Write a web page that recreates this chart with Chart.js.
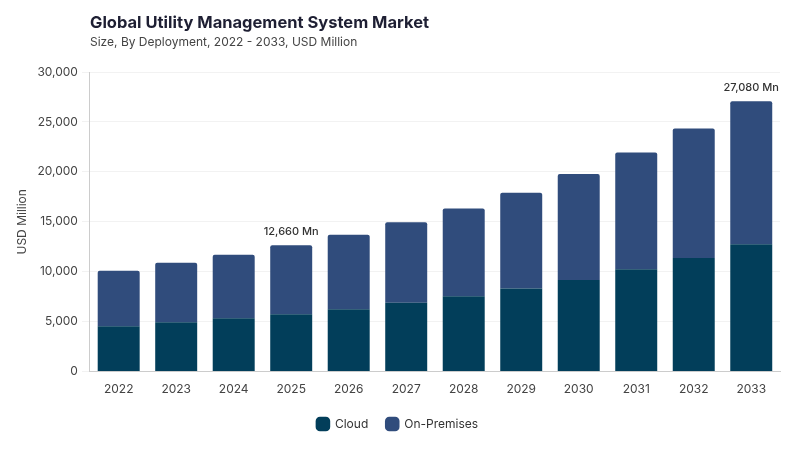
<!DOCTYPE html>
<html>
<head>
<meta charset="utf-8">
<script src="https://cdn.jsdelivr.net/npm/chart.js@4.4.0/dist/chart.umd.min.js"></script>
<style>
    html, body { margin: 0; padding: 0; background: #fff; }
    #wrap { position: relative; width: 800px; height: 450px; font-family: Inter, "Open Sans", sans-serif; }
    #title { position: absolute; left: 90px; top: 12px; font-size: 16.5px; font-weight: 700; color: #1e1f33; }
    #subtitle { position: absolute; left: 90px; top: 34px; font-size: 12px; color: #444; }
    canvas { position: absolute; left: 0; top: 0; }
</style>
</head>
<body>
<div id="wrap">
    <canvas id="chart" width="800" height="450"></canvas>
    <div id="title">Global Utility Management System Market</div>
    <div id="subtitle">Size, By Deployment, 2022 - 2033, USD Million</div>
</div>
<script>
// Dados do gráfico
const years = ['2022', '2023', '2024', '2025', '2026', '2027', '2028', '2029', '2030', '2031', '2032', '2033'];
const cloud = [4540, 4950, 5350, 5750, 6250, 6890, 7550, 8320, 9160, 10260, 11370, 12740];
const onPremises = [5560, 5950, 6350, 6910, 7450, 8060, 8770, 9600, 10630, 11670, 12970, 14340];
const yTicks = [0, 5000, 10000, 15000, 20000, 25000, 30000];
// rótulos de total acima das barras (índice -> texto)
const totalLabels = { 3: '12,660 Mn', 11: '27,080 Mn' };

// Plugin para escrever os totais acima das barras
const totalsPlugin = {
    id: 'totals',
    afterDatasetsDraw(chart) {
        const ctx = chart.ctx;
        const meta = chart.getDatasetMeta(1);
        ctx.save();
        ctx.font = '500 11px Inter, "Open Sans", sans-serif';
        ctx.fillStyle = '#333';
        ctx.textAlign = 'center';
        ctx.textBaseline = 'bottom';
        Object.keys(totalLabels).forEach(i => {
            const bar = meta.data[i];
            ctx.fillText(totalLabels[i], bar.x, bar.y - 8);
        });
        ctx.restore();
    }
};

const ctx = document.getElementById('chart').getContext('2d');
new Chart(ctx, {
    type: 'bar',
    data: {
        labels: years,
        datasets: [{
            label: 'Cloud',
            data: cloud,
            backgroundColor: '#023e5a',
            borderWidth: 0,
            barPercentage: 0.73,
            categoryPercentage: 1
        }, {
            label: 'On-Premises',
            data: onPremises,
            backgroundColor: '#304c7c',
            borderRadius: { topLeft: 2, topRight: 2 },
            borderSkipped: 'bottom',
            barPercentage: 0.73,
            categoryPercentage: 1
        }]
    },
    options: {
        responsive: false,
        animation: false,
        layout: { padding: { top: 72, right: 20, left: 15, bottom: 10 } },
        scales: {
            x: {
                stacked: true,
                grid: { display: false },
                border: { color: '#ccc' },
                ticks: { color: '#444', font: { size: 12, family: 'Inter' }, padding: 3 }
            },
            y: {
                stacked: true,
                min: 0,
                max: 30000,
                afterBuildTicks(axis) {
                    axis.ticks = yTicks.map(v => ({ value: v }));
                },
                grid: { color: '#f2f2f2', tickLength: 8 },
                border: { color: '#ccc' },
                ticks: {
                    color: '#444',
                    font: { size: 12, family: 'Inter' },
                    padding: 4,
                    callback: v => v.toLocaleString('en-US')
                },
                title: {
                    display: true,
                    text: 'USD Million',
                    color: '#444',
                    font: { size: 12, family: 'Inter' },
                    padding: { top: 0, bottom: 4 }
                }
            }
        },
        plugins: {
            legend: {
                position: 'bottom',
                labels: {
                    usePointStyle: true,
                    pointStyle: 'rectRounded',
                    boxWidth: 14,
                    boxHeight: 14,
                    padding: 18,
                    color: '#333',
                    font: { size: 12, family: 'Inter' }
                }
            },
            tooltip: { enabled: false }
        }
    },
    plugins: [totalsPlugin]
});
</script>
</body>
</html>
